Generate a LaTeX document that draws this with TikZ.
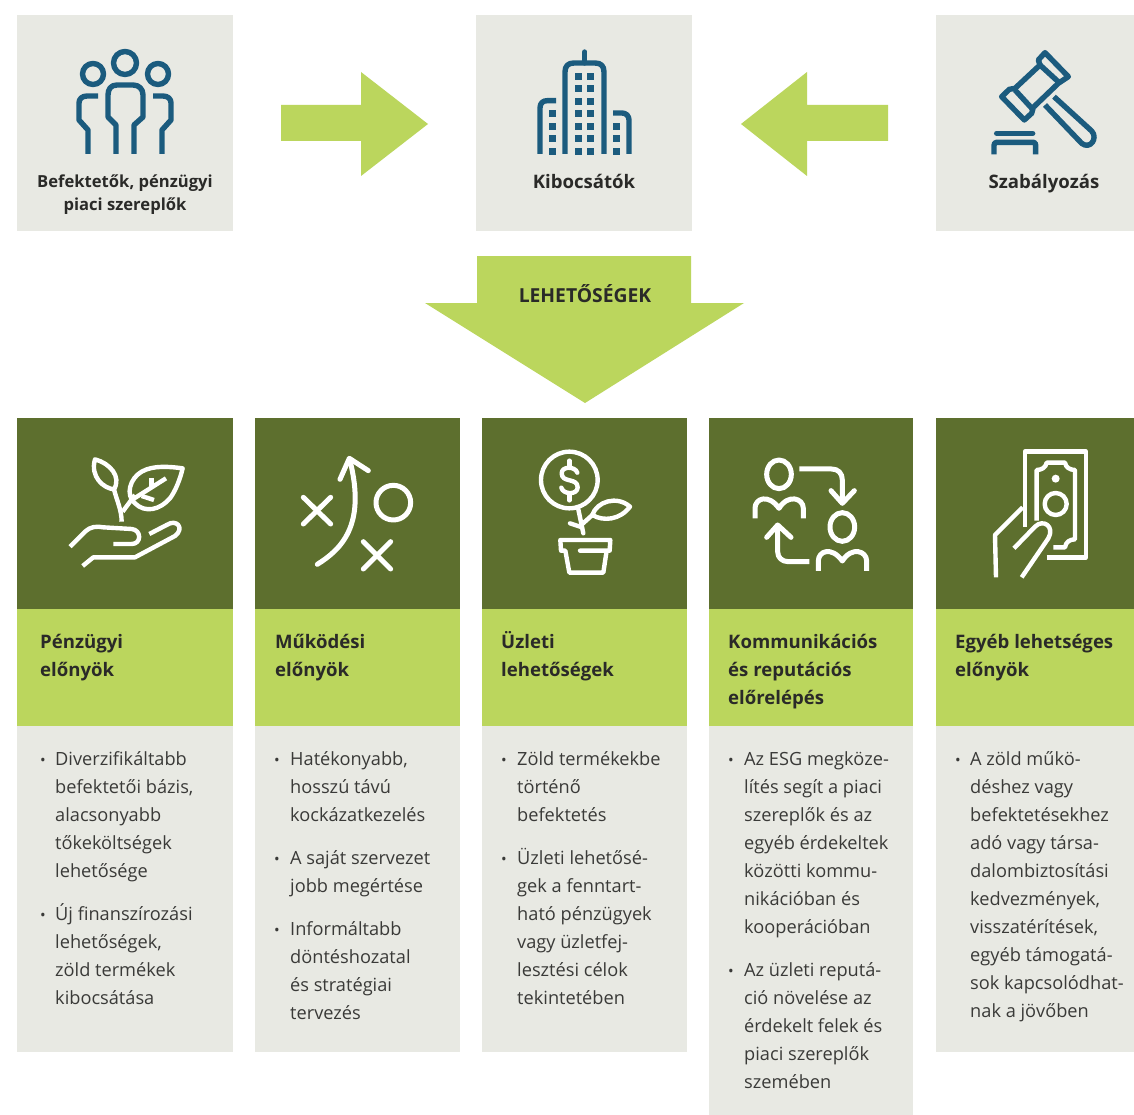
\documentclass[tikz,border=0pt]{standalone}
\usepackage{fontspec}
\setmainfont{Open Sans}
\definecolor{boxgrey}{HTML}{E8E9E3}
\definecolor{darkgreen}{HTML}{5D6F2E}
\definecolor{lightgreen}{HTML}{BBD65D}
\definecolor{iconblue}{HTML}{1B5B7E}
\definecolor{txt}{HTML}{3A3A38}
\definecolor{txtb}{HTML}{2A2A28}
\newcommand\fstline{\rule{0pt}{22pt}}
\tikzset{
 panel/.style={fill=boxgrey,draw=none},
 dark/.style={fill=darkgreen,draw=none},
 lime/.style={fill=lightgreen,draw=none},
 blueicon/.style={draw=iconblue,line width=5.4pt,line join=round,fill=none},
 whiteicon/.style={draw=white,line width=4.4pt,line join=round,fill=none},
 toplabel/.style={font=\fontsize{18.6}{23}\selectfont\bfseries,text=txtb,align=center,inner sep=0pt,anchor=base},
 headtxt/.style={font=\fontsize{18.6}{28}\selectfont\bfseries,text=txtb,align=left,inner sep=0pt,anchor=north west},
 bodytxt/.style={font=\fontsize{18.2}{28}\selectfont,text=txt,align=left,inner sep=0pt,anchor=north west},
 bul/.style={font=\fontsize{15}{15}\selectfont,text=txt,inner sep=0pt,anchor=base},
}
\begin{document}
\begin{tikzpicture}[x=1pt,y=-1pt]
\useasboundingbox (0,0) rectangle (1134,1115);
\fill[white] (0,0) rectangle (1134,1115);
% top panels
\fill[panel] (17,15) rectangle (233,231);
\fill[panel] (476,15) rectangle (692,231);
\fill[panel] (936,15) rectangle (1134,231);
% arrows
\fill[lime] (281,105) -- (361,105) -- (361,72) -- (428,124) -- (361,176) -- (361,141) -- (281,141) -- cycle;
\fill[lime] (888,105) -- (807,105) -- (807,72) -- (741,124) -- (807,176) -- (807,141) -- (888,141) -- cycle;
\fill[lime] (477,256) -- (691,256) -- (691,303) -- (744,303) -- (585,403) -- (425,303) -- (477,303) -- cycle;
% columns
\fill[dark] (17,418) rectangle (233,609);
\fill[dark] (255,418) rectangle (460,609);
\fill[dark] (482,418) rectangle (687,609);
\fill[dark] (709,418) rectangle (913,609);
\fill[dark] (936,418) rectangle (1134,609);
\fill[lime] (17,609) rectangle (233,726);
\fill[lime] (255,609) rectangle (460,726);
\fill[lime] (482,609) rectangle (687,726);
\fill[lime] (709,609) rectangle (913,726);
\fill[lime] (936,609) rectangle (1134,726);
\fill[panel] (17,726) rectangle (233,1052);
\fill[panel] (255,726) rectangle (460,1052);
\fill[panel] (482,726) rectangle (687,1052);
\fill[panel] (709,726) rectangle (913,1115);
\fill[panel] (936,726) rectangle (1134,1052);
% people icon
\begin{scope}[blueicon]
\draw (125,63) circle (11.5);
\draw (93,74) circle (10.5);
\draw (158,74) circle (10.5);
\draw (116,154) -- (116,125) -- (108,117) -- (108,95) .. controls (108,89) and (111,85) .. (117,85) -- (133,85) .. controls (139,85) and (143,89) .. (143,95) -- (143,117) -- (134,125) -- (134,154);
\draw (98,96) -- (87,96) .. controls (82,96) and (79,99) .. (79,103) -- (79,120) -- (88,130) -- (88,154);
\draw (153,96) -- (163,96) .. controls (168,96) and (171,99) .. (171,103) -- (171,120) -- (162,130) -- (162,154);
\end{scope}
% building icon
\begin{scope}[blueicon]
\draw (565,154) -- (565,72) .. controls (565,66) and (568,63) .. (574,63) -- (595,63) .. controls (601,63) and (604,66) .. (604,72) -- (604,154);
\draw[line cap=round] (584.7,52) -- (584.7,63);
\draw (540,154) -- (540,108) .. controls (540,103) and (543,100.7) .. (547,100.7) -- (556,100.7);
\draw (629,154) -- (629,120) .. controls (629,116) and (626,113) .. (622,113) -- (613,113);
\end{scope}
\foreach \y in {73,85,98,110,123,135,148} {
 \fill[iconblue] (575.3,\y) rectangle +(7,7);
 \fill[iconblue] (587.3,\y) rectangle +(7,7);
}
\foreach \y in {110,123,135,148} \fill[iconblue] (549,\y) rectangle +(7,7);
\foreach \y in {123,135,148} \fill[iconblue] (613.3,\y) rectangle +(7,7);
% gavel icon
\begin{scope}[shift={(930,0)},x=0.3333pt,y=-0.3333pt,blueicon]
\draw (345,158) -- (415,230) -- (385,250) -- (310,322) -- (305,340) -- (283,360) -- (215,290) -- (238,268) -- (255,265) -- (330,195) -- (325,180) -- cycle;
\draw (330,195) -- (390,250);
\draw (255,270) -- (310,330);
\draw (372,290) -- (485,393) .. controls (505,415) and (480,450) .. (455,430) -- (345,315);
\draw[line cap=round] (200,400) -- (308,400);
\draw (192,463) -- (192,436) .. controls (192,430) and (195,427) .. (200,427) -- (310,427) .. controls (315,427) and (317,430) .. (317,436) -- (317,463);
\end{scope}
% plant in hand
\begin{scope}[shift={(10,420)},x=0.3333pt,y=-0.3333pt,whiteicon]
\draw (255,118) .. controls (300,130) and (335,170) .. (312,208) .. controls (280,205) and (240,170) .. (255,118) -- cycle;
\draw (312,208) .. controls (320,240) and (335,270) .. (335,305);
\draw (338,275) -- (375,225);
\draw (518,145) .. controls (480,140) and (430,135) .. (395,155) .. controls (360,175) and (345,225) .. (375,250) .. controls (405,280) and (450,270) .. (480,235) .. controls (495,215) and (510,180) .. (518,145) -- cycle;
\draw (370,237) -- (468,175);
\draw (425,175) -- (425,200);
\draw (395,228) -- (432,240);
\draw (180,380) -- (225,335) .. controls (240,320) and (260,318) .. (280,322) -- (365,327) .. controls (395,330) and (395,372) .. (365,372) -- (310,372);
\draw (418,342) -- (470,315) .. controls (500,295) and (525,325) .. (495,348) -- (375,412) -- (250,412) -- (218,438);
\end{scope}
% tactics
\begin{scope}[shift={(250,420)},x=0.3333pt,y=-0.3333pt,whiteicon,line cap=round,line width=5pt]
\draw (160,232) -- (242,312);
\draw (242,232) -- (160,312);
\draw (340,365) -- (422,447);
\draw (422,365) -- (340,447);
\draw (430,248) circle (52);
\draw (202,433) .. controls (270,390) and (350,320) .. (300,122);
\draw (270,178) -- (298,115) -- (355,152);
\end{scope}
% plant dollar
\begin{scope}[shift={(480,420)},x=0.3333pt,y=-0.3333pt,whiteicon,line cap=round]
\draw (268,180) circle (85);
\draw (292,158) .. controls (285,138) and (245,138) .. (245,160) .. controls (245,190) and (293,172) .. (293,202) .. controls (293,225) and (250,225) .. (244,203);
\draw (268,122) -- (268,138);
\draw (268,225) -- (268,241);
\draw (337,285) .. controls (350,245) and (410,225) .. (450,260) .. controls (420,300) and (370,305) .. (337,285) -- cycle;
\draw (295,268) -- (310,340);
\draw (337,285) -- (307,312);
\draw (270,310) -- (306,322);
\draw (300,392) -- (389,392) -- (391,360) -- (241,360) -- (243,392) -- (256,392) -- (268,458) -- (370,458) -- (380,392);
\end{scope}
% communication
\begin{scope}[shift={(705,420)},x=0.3333pt,y=-0.3333pt,whiteicon,line width=5pt]
\foreach \dx/\dy in {0/0,190/158} {
 \begin{scope}[shift={(\dx pt*0.3333,\dy pt*-0.3333)}]
 \draw (222,163) ellipse [x radius=37, y radius=43];
 \draw (150,295) -- (150,265) .. controls (150,235) and (190,220) .. (222,265) .. controls (250,220) and (295,235) .. (295,265) -- (295,295);
 \end{scope}
}
\draw (283,147) -- (380,147) .. controls (400,147) and (412,160) .. (412,180) -- (412,250);
\draw[line cap=round] (378,212) -- (412,250) -- (448,212);
\draw (313,425) -- (250,425) .. controls (230,425) and (218,412) .. (218,395) -- (218,315);
\draw[line cap=round] (185,352) -- (218,315) -- (258,352);
\end{scope}
% money
\begin{scope}[shift={(930,420)},x=0.3333pt,y=-0.3333pt,whiteicon]
\draw (350,412) -- (468,412) -- (468,95) -- (285,95) -- (285,322);
\draw (320,302) -- (320,150) .. controls (335,150) and (348,142) .. (350,128) -- (405,128) .. controls (407,142) and (420,150) .. (435,150) -- (435,358) .. controls (420,358) and (407,366) .. (405,382) -- (370,382);
\fill[white] (377,176) circle (12);
\draw (377,252) circle (33);
\draw (278,262) -- (195,345) -- (198,472);
\draw (252,385) -- (315,320) .. controls (340,295) and (375,320) .. (355,355) -- (275,472);
\end{scope}
% top labels
\node[toplabel,font=\fontsize{16.6}{23}\selectfont\bfseries] (lab1) at (125,188) {Befektetők, pénzügyi};
\node[toplabel,font=\fontsize{16.6}{23}\selectfont\bfseries] (lab1b) at (125,211) {piaci szereplők};
\node[toplabel] (lab2) at (584,188.5) {Kibocsátók};
\node[toplabel] (lab3) at (1044,188.5) {Szabályozás};
\node[toplabel,font=\fontsize{19.3}{23}\selectfont\bfseries] (lab4) at (585,302) {LEHETŐSÉGEK};
% header labels
\node[headtxt] (h1) at (40,626) {\fstline Pénzügyi\\előnyök};
\node[headtxt] (h2) at (275,626) {\fstline Működési\\előnyök};
\node[headtxt] (h3) at (501,626) {\fstline Üzleti\\lehetőségek};
\node[headtxt] (h4) at (728,626) {\fstline Kommunikációs\\és reputációs\\előrelépés};
\node[headtxt] (h5) at (955,626) {\fstline Egyéb lehetséges\\előnyök};
% column 1
\node[bul] (b11) at (43,765) {•};
\node[bodytxt] (t11) at (55,743) {\fstline Diverzifikáltabb\\befektetői bázis,\\alacsonyabb\\tőkeköltségek\\lehetősége};
\node[bul] (b12) at (43,920) {•};
\node[bodytxt] (t12) at (55,898) {\fstline Új finanszírozási\\lehetőségek,\\zöld termékek\\kibocsátása};
% column 2
\node[bul] (b21) at (277,765) {•};
\node[bodytxt] (t21) at (290,743) {\fstline Hatékonyabb,\\hosszú távú\\kockázatkezelés};
\node[bul] (b22) at (277,864) {•};
\node[bodytxt] (t22) at (290,842) {\fstline A saját szervezet\\jobb megértése};
\node[bul] (b23) at (277,935) {•};
\node[bodytxt] (t23) at (290,913) {\fstline Informáltabb\\döntéshozatal\\és stratégiai\\tervezés};
% column 3
\node[bul] (b31) at (504,765) {•};
\node[bodytxt] (t31) at (517,743) {\fstline Zöld termékekbe\\történő\\befektetés};
\node[bul] (b32) at (504,864) {•};
\node[bodytxt] (t32) at (517,842) {\fstline Üzleti lehetősé-\\gek a fenntart-\\ható pénzügyek\\vagy üzletfej-\\lesztési célok\\tekintetében};
% column 4
\node[bul] (b41) at (731,765) {•};
\node[bodytxt] (t41) at (744,743) {\fstline Az ESG megköze-\\lítés segít a piaci\\szereplők és az\\egyéb érdekeltek\\közötti kommu-\\nikációban és\\kooperációban};
\node[bul] (b42) at (731,976) {•};
\node[bodytxt] (t42) at (744,954) {\fstline Az üzleti reputá-\\ció növelése az\\érdekelt felek és\\piaci szereplők\\szemében};
% column 5
\node[bul] (b51) at (958,765) {•};
\node[bodytxt] (t51) at (970,743) {\fstline A zöld műkö-\\déshez vagy\\befektetésekhez\\adó vagy társa-\\dalombiztosítási\\kedvezmények,\\visszatérítések,\\egyéb támogatá-\\sok kapcsolódhat-\\nak a jövőben};
\end{tikzpicture}
\end{document}
